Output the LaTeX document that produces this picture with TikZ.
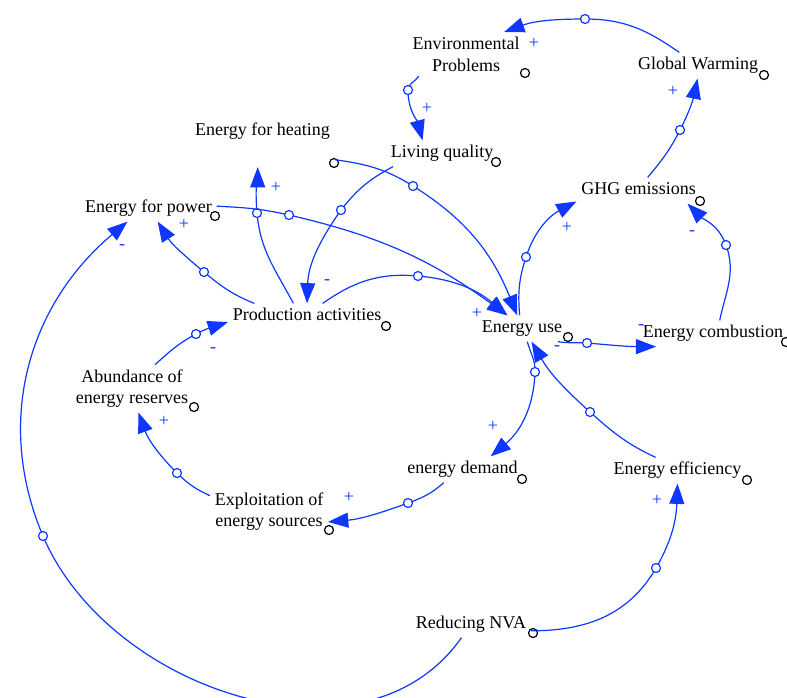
\documentclass[tikz,border=0pt]{standalone}
\usepackage{fontspec}
\setmainfont{Liberation Serif}
\usetikzlibrary{arrows.meta}
\definecolor{linkblue}{RGB}{15,55,255}
\tikzset{
    %Define standard arrow tip
    >={Triangle[length=13.5pt,width=10pt]},
    %Define style for variables
    var/.style={
           font=\fontsize{12}{14.5}\selectfont,
           inner sep=3pt,
           text height=8.5pt,
           text depth=2.6pt},
    varml/.style={
           font=\fontsize{12}{14.5}\selectfont,
           inner sep=3pt,
           align=center},
    %Define style for the small circles
    vdot/.style={
           circle,
           draw=black, thick,
           fill=white,
           inner sep=0pt,
           minimum size=6pt},
    handle/.style={
           circle,
           draw=linkblue, thick,
           fill=white,
           inner sep=0pt,
           minimum size=6pt},
    % Define arrow style
    link/.style={
           ->,
           draw=linkblue,
           thick},
    pol/.style={
           text=linkblue,
           font=\fontsize{12}{14}\selectfont,
           inner sep=0pt}
}

\begin{document}
\begin{tikzpicture}[x=0.6667pt,y=0.6667pt]
\useasboundingbox (0,0) rectangle (787,-697);
\node[varml](ep) at (466,-54) {Environmental\\Problems};
\node[var](gw) at (698,-65.5) {Global Warming};
\node[var](eh) at (262.5,-131.5) {Energy for heating};
\node[var](lq) at (442,-153.5) {Living quality};
\node[var](efp) at (148.5,-208.5) {Energy for power};
\node[var](ghg) at (638.5,-190.5) {GHG emissions};
\node[var](pa) at (307,-316.5) {Production activities};
\node[var](eu) at (522,-328.5) {Energy use};
\node[var](ec) at (713,-333.5) {Energy combustion};
\node[varml](ab) at (132,-388.5) {Abundance of\\energy reserves};
\node[varml](ex) at (269,-511.5) {Exploitation of\\energy sources};
\node[var](ed) at (462.5,-469.5) {energy demand};
\node[var](ee) at (677.5,-470.5) {Energy efficiency};
\node[var](nva) at (471,-624.5) {Reducing NVA};
\foreach \n/\x/\y in {ep/525/73, gw/764/75, eh/334/163, lq/496/162, efp/215/216,
    ghg/700/201, pa/386/326, eu/568/337, ec/786/342, ab/194/407, ex/329/530,
    ed/522/479, ee/747/480, nva/533/633}
  \node[vdot](\n-dot) at (\x,-\y) {};

\draw[link] (gw.145) to[out=145,in=0] (585,-19) node[handle]{}
  to[out=180,in=20] (ep.30) node[pol] at (534,-43) {+};
\draw[link] (ep.205) to[out=240,in=90] (408,-90) node[handle]{}
  to[out=270,in=105] (lq.146) node[pol] at (427,-108) {+};
\draw[link] (ghg.55) to[out=50,in=243] (680,-130) node[handle]{}
  to[out=63,in=258] (gw.268) node[pol] at (673,-91) {+};
\draw[link] (eu.100) to[out=95,in=252] (526,-257) node[handle]{}
  to[out=72,in=208] (ghg.190) node[pol] at (567,-227) {+};
\draw[link] (ec.63) to[out=78,in=290] (726,-245) node[handle]{}
  to[out=110,in=315] (ghg.345) node[pol] at (692,-233) {-};
\draw[link] (eu.340) to[out=-10,in=175] (587,-343) node[handle]{}
  to[out=-5,in=180] (ec.193) node[pol] at (641,-327) {-};
\draw[link] (eu.292) to[out=285,in=88] (535,-372) node[handle]{}
  to[out=268,in=40] (ed.25) node[pol] at (493,-426) {+};
\draw[link] (ee.149) to[out=155,in=318] (590,-412) node[handle]{}
  to[out=138,in=300] (eu.306) node[pol] at (557,-348) {-};
\draw[link] (ed.215) to[out=222,in=20] (408,-503) node[handle]{}
  to[out=200,in=5] (ex.350) node[pol] at (349,-497) {+};
\draw[link] (ex.165) to[out=155,in=315] (177,-473) node[handle]{}
  to[out=135,in=290] (ab.285) node[pol] at (164,-421) {+};
\draw[link] (ab.46) to[out=42,in=208] (196,-334) node[handle]{}
  to[out=28,in=198] (pa.184) node[pol] at (213,-350) {-};
\draw[link] (pa.166) to[out=158,in=320] (204,-272) node[handle]{}
  to[out=140,in=302] (efp.305) node[pol] at (184,-224) {+};
\draw[link,shorten >=15pt] (pa.136) to[out=118,in=275] (257,-213) node[handle]{}
  to[out=95,in=270] (eh.250) node[pol] at (276,-187) {+};
\draw[link] (lq.195) to[out=208,in=52] (341,-210) node[handle]{}
  to[out=235,in=88] (pa.north) node[pol] at (327,-282) {-};
\draw[link] (pa.40) to[out=35,in=175] (418,-276) node[handle]{}
  to[out=-5,in=140] (eu.138);
\draw[link] (efp.2) to[out=-3,in=167] (289,-215) node[handle]{}
  to[out=-13,in=144] (eu.138) node[pol] at (477,-313) {+};
\draw[link] ([yshift=-10pt]eh.south east) to[out=-8,in=148] (413,-186) node[handle]{}
  to[out=-32,in=112] (eu.110);
\draw[link] (nva.234) to[out=235,in=293] (43,-536) node[handle]{}
  to[out=113,in=220] (efp.212) node[pol] at (122,-247) {-};
\draw[link] (nva.354) to[out=0,in=240] (656,-568) node[handle]{}
  to[out=60,in=268] (ee.south) node[pol] at (657,-500) {+};
\end{tikzpicture}
\end{document}
